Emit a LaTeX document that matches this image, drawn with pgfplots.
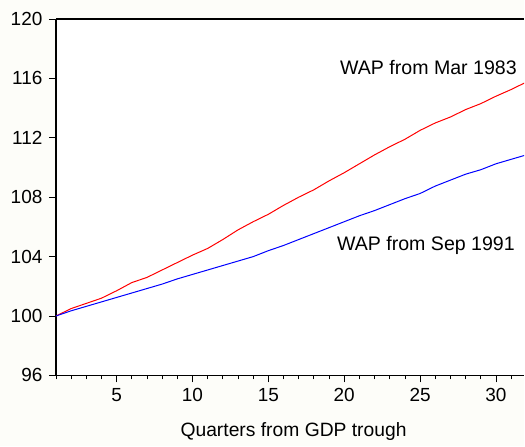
\documentclass[border=0pt]{standalone}
\usepackage{pgfplots}
\pgfplotsset{compat=1.18}
\usepackage{fontspec}
\setmainfont{Liberation Sans}
\definecolor{bgc}{RGB}{253,253,249}
\begin{document}
\fontsize{19bp}{23bp}\selectfont
\begin{tikzpicture}
\fill[bgc] (-56bp,-71bp) rectangle (469bp,376bp);
\begin{axis}[name=ax, at={(0,0)}, anchor=south west,
  scale only axis, width=469bp, height=357bp,
  xmin=1, xmax=31.86, ymin=96, ymax=120,
  axis lines*=left,
  axis line style={line width=1.6bp, black},
  xtick={5,10,...,30}, minor xtick={1,...,32}, ytick={96,100,...,120},
  tick align=outside, major tick length=7bp, minor tick length=4bp,
  tick style={black, line width=0.8bp},
  /pgf/number format/assume math mode=true,
  tick label style={font=\fontsize{19bp}{23bp}\selectfont},
  xticklabel style={anchor=base, yshift=-19bp},
  yticklabel style={anchor=east, xshift=0bp},
  xlabel={Quarters from GDP trough},
  xlabel style={font=\fontsize{19.3bp}{23bp}\selectfont, at={(rel axis cs:0.5,0)}, anchor=base, yshift=-60.7bp, xshift=3.5bp},
  axis background/.style={fill=white},
  clip=true]
\addplot[red, line width=1bp] table {
x y
1 100
2 100.5
3 100.85
4 101.2
5 101.7
6 102.25
7 102.6
8 103.1
9 103.6
10 104.1
11 104.55
12 105.15
13 105.8
14 106.35
15 106.85
16 107.45
17 108.0
18 108.5
19 109.1
20 109.65
21 110.25
22 110.85
23 111.4
24 111.9
25 112.5
26 113.0
27 113.4
28 113.9
29 114.3
30 114.8
31 115.25
32 115.75
};
\addplot[blue, line width=1bp] table {
x y
1 100
2 100.35
3 100.65
4 100.95
5 101.25
6 101.55
7 101.85
8 102.15
9 102.5
10 102.8
11 103.1
12 103.4
13 103.7
14 104.0
15 104.4
16 104.75
17 105.15
18 105.55
19 105.95
20 106.35
21 106.75
22 107.1
23 107.5
24 107.9
25 108.25
26 108.75
27 109.15
28 109.55
29 109.85
30 110.25
31 110.55
32 110.85
};
\node[anchor=base east, inner sep=0pt, font=\fontsize{19.6bp}{23bp}\selectfont] at (axis cs:31.38,116.27) {WAP from Mar 1983};
\node[anchor=base east, inner sep=0pt, font=\fontsize{19.6bp}{23bp}\selectfont] at (axis cs:31.25,104.38) {WAP from Sep 1991};
\end{axis}
\draw[line width=1.6bp, black] (ax.north west) -- (ax.north east);
\end{tikzpicture}
\end{document}
